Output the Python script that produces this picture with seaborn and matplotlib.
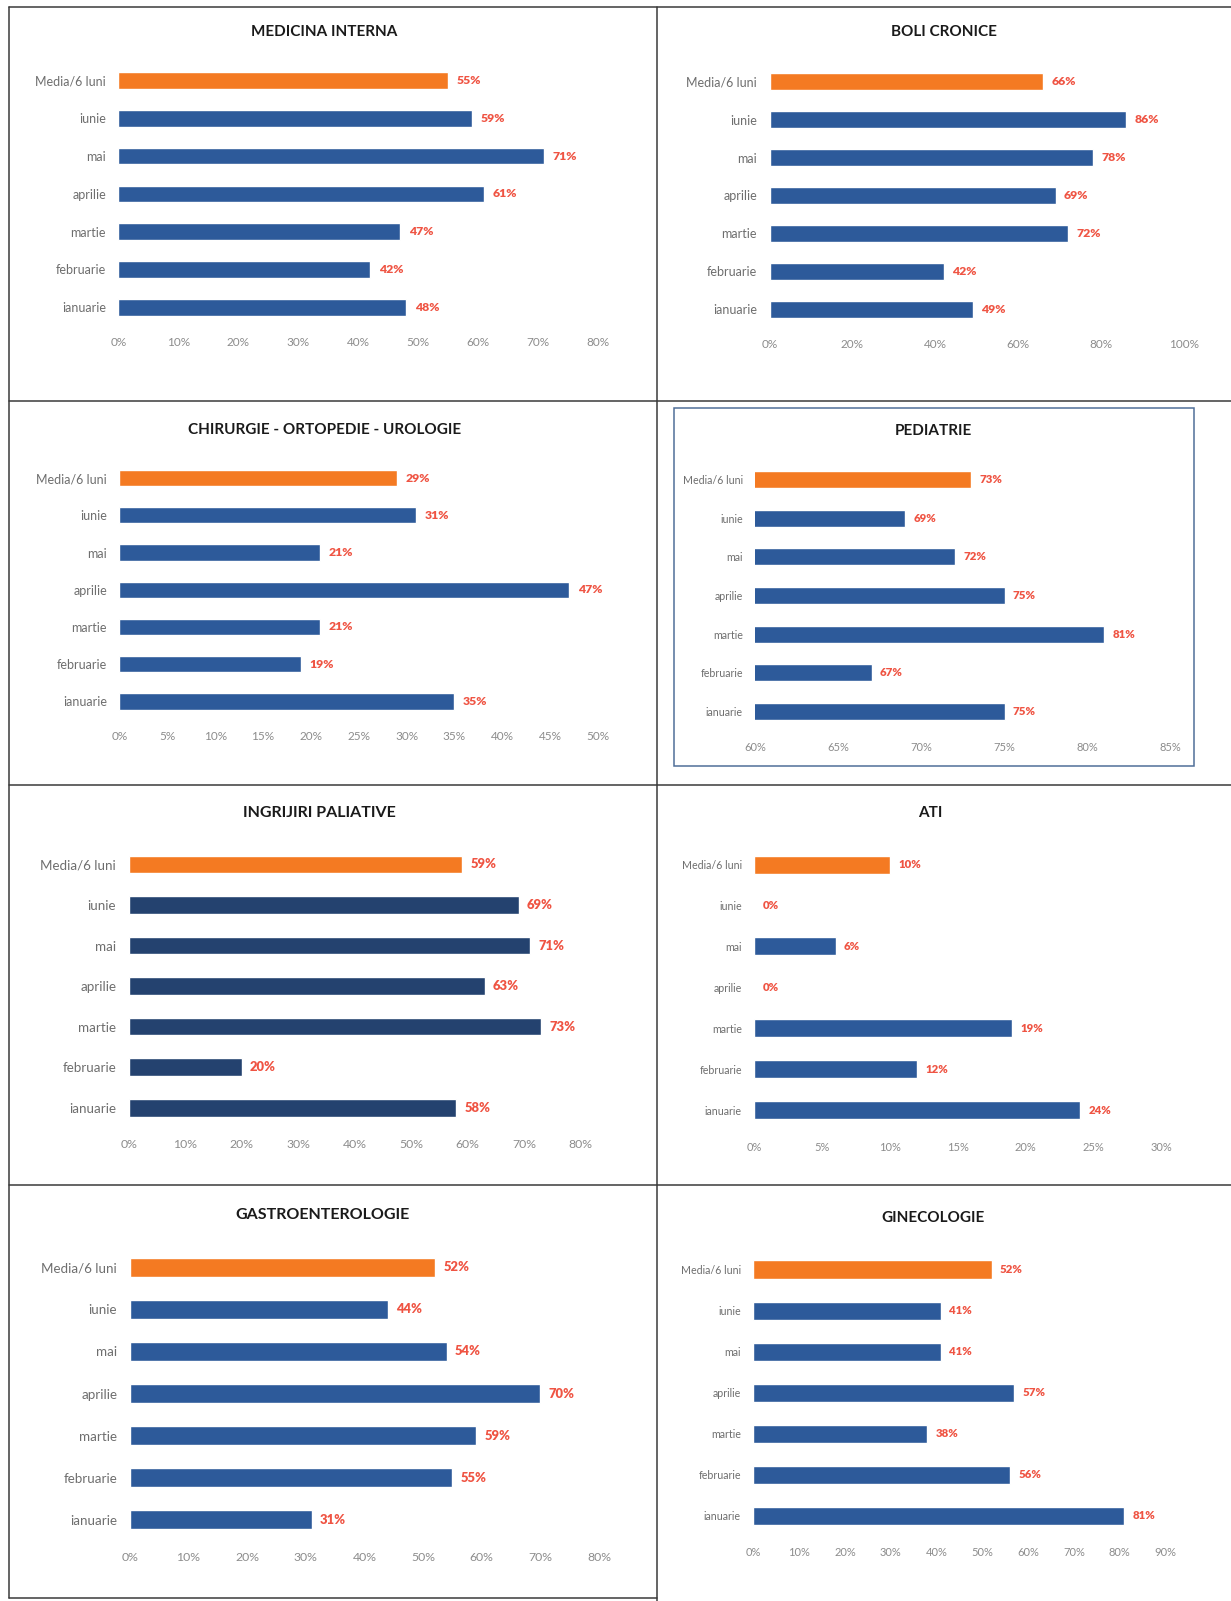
import matplotlib
matplotlib.use("Agg")
import matplotlib.pyplot as plt
from matplotlib.lines import Line2D
from matplotlib.patches import Rectangle
import seaborn as sns
import pandas as pd

sns.set_theme(style="white")
plt.rcParams['font.family'] = ['Lato', 'DejaVu Sans']

# ---------------- data ----------------
categories = ["Media/6 luni", "iunie", "mai", "aprilie", "martie", "februarie", "ianuarie"]

medicina_interna = [55, 59, 71, 61, 47, 42, 48]
boli_cronice = [66, 86, 78, 69, 72, 42, 49]
chirurgie = [29, 31, 21, 47, 21, 19, 35]
pediatrie = [73, 69, 72, 75, 81, 67, 75]
ingrijiri_paliative = [59, 69, 71, 63, 73, 20, 58]
ati = [10, 0, 6, 0, 19, 12, 24]
gastroenterologie = [52, 44, 54, 70, 59, 55, 31]
ginecologie = [52, 41, 41, 57, 38, 56, 81]

titles = ["MEDICINA INTERNA", "BOLI CRONICE", "CHIRURGIE - ORTOPEDIE - UROLOGIE", "PEDIATRIE",
          "INGRIJIRI PALIATIVE", "ATI", "GASTROENTEROLOGIE", "GINECOLOGIE"]

ticks_mi = [0, 10, 20, 30, 40, 50, 60, 70, 80]
ticks_bc = [0, 20, 40, 60, 80, 100]
ticks_ch = [0, 5, 10, 15, 20, 25, 30, 35, 40, 45, 50]
ticks_pe = [60, 65, 70, 75, 80, 85]
ticks_ip = [0, 10, 20, 30, 40, 50, 60, 70, 80]
ticks_ati = [0, 5, 10, 15, 20, 25, 30]
ticks_ga = [0, 10, 20, 30, 40, 50, 60, 70, 80]
ticks_gi = [0, 10, 20, 30, 40, 50, 60, 70, 80, 90]

# ---------------- styling ----------------
W, H = 1231, 1601
ORANGE = "#F47A22"
BLUE = "#2D5A9A"
NAVY = "#24426F"
RED = "#EF5443"
CAT_GRAY = "#6E6E6E"
TICK_GRAY = "#8C8C8C"

fig = plt.figure(figsize=(W / 100, H / 100), dpi=100)
fig.patch.set_facecolor("white")

# (x0, x1, top, bottom) in pixels; title (x, y) in pixels
layout = [
    (118.4, 598.1, 61.8, 326.1, 324.6, 31.6),
    (769.6, 1184.0, 62.7, 328.2, 944.0, 31.6),
    (119.4, 598.1, 459.4, 720.1, 324.6, 429.7),
    (755.3, 1170.7, 460.4, 730.7, 933.0, 430.7),
    (128.6, 580.8, 844.2, 1127.9, 319.5, 812.5),
    (754.3, 1161.6, 844.1, 1130.6, 930.0, 812.5),
    (129.6, 599.2, 1246.2, 1540.8, 322.5, 1214.6),
    (753.3, 1165.6, 1249.0, 1536.2, 933.0, 1217.8),
]
series = [medicina_interna, boli_cronice, chirurgie, pediatrie,
          ingrijiri_paliative, ati, gastroenterologie, ginecologie]
tick_sets = [ticks_mi, ticks_bc, ticks_ch, ticks_pe, ticks_ip, ticks_ati, ticks_ga, ticks_gi]
bar_colors = [BLUE, BLUE, BLUE, BLUE, NAVY, BLUE, BLUE, BLUE]
# category label size, value label size, tick size
sizes = [(9.0, 8.8, 8.5), (9.0, 8.8, 8.5), (9.0, 8.8, 8.5), (7.7, 8.2, 8.0),
         (9.6, 9.4, 8.8), (7.7, 8.2, 8.0), (9.6, 9.4, 8.8), (7.7, 8.2, 8.0)]

for (x0, x1, top, bot, tx, ty), vals, ticks, bc, (cs, vs, ts), title in zip(
        layout, series, tick_sets, bar_colors, sizes, titles):
    ax = fig.add_axes([x0 / W, 1 - bot / H, (x1 - x0) / W, (bot - top) / H])
    df = pd.DataFrame({"cat": categories, "val": vals})
    sns.barplot(data=df, x="val", y="cat", hue="cat", order=categories, hue_order=categories,
                palette=[ORANGE] + [bc] * 6, width=0.44, saturation=1, legend=False, ax=ax)
    ax.set_xlim(ticks[0], ticks[-1])
    ax.set_ylim(6.5, -0.5)
    ax.set_xticks(ticks)
    ax.set_xticklabels([f"{t}%" for t in ticks], color=TICK_GRAY, fontsize=ts)
    ax.tick_params(axis="x", length=0, pad=8)
    ax.tick_params(axis="y", length=0, pad=9, labelsize=cs, labelcolor=CAT_GRAY)
    ax.set_xlabel("")
    ax.set_ylabel("")
    for s in ax.spines.values():
        s.set_visible(False)
    ax.grid(False)
    ax.set_facecolor("none")
    for cont in ax.containers:
        labs = [f"{int(round(b.get_width()))}%" for b in cont]
        ax.bar_label(cont, labels=labs, padding=6, color=RED, fontweight="heavy",
                     fontsize=vs, clip_on=False)
    fig.text(tx / W, 1 - ty / H, title, ha="center", va="center", fontweight="bold",
             fontsize=11.5 if cs > 9.5 else 11, color="#1a1a1a")

# ---------------- panel borders ----------------
def hline(y, xa, xb, lw=1.1, c="#3a3a3a"):
    fig.add_artist(Line2D([xa / W, xb / W], [1 - y / H, 1 - y / H], color=c, lw=lw))

def vline(x, ya, yb, lw=1.1, c="#3a3a3a"):
    fig.add_artist(Line2D([x / W, x / W], [1 - ya / H, 1 - yb / H], color=c, lw=lw))

hline(7, 9, W)
hline(401, 9, W)
hline(785, 9, W)
hline(1185, 9, W)
hline(1598, 9, 657)
vline(9, 7, 1598)
vline(657, 7, H)

fig.add_artist(Rectangle((674 / W, 1 - 766 / H), (1194 - 674) / W, (766 - 408) / H,
                         fill=False, edgecolor="#4F6F99", lw=1.1, transform=fig.transFigure))

fig.savefig("out.png", dpi=100, facecolor="white")
